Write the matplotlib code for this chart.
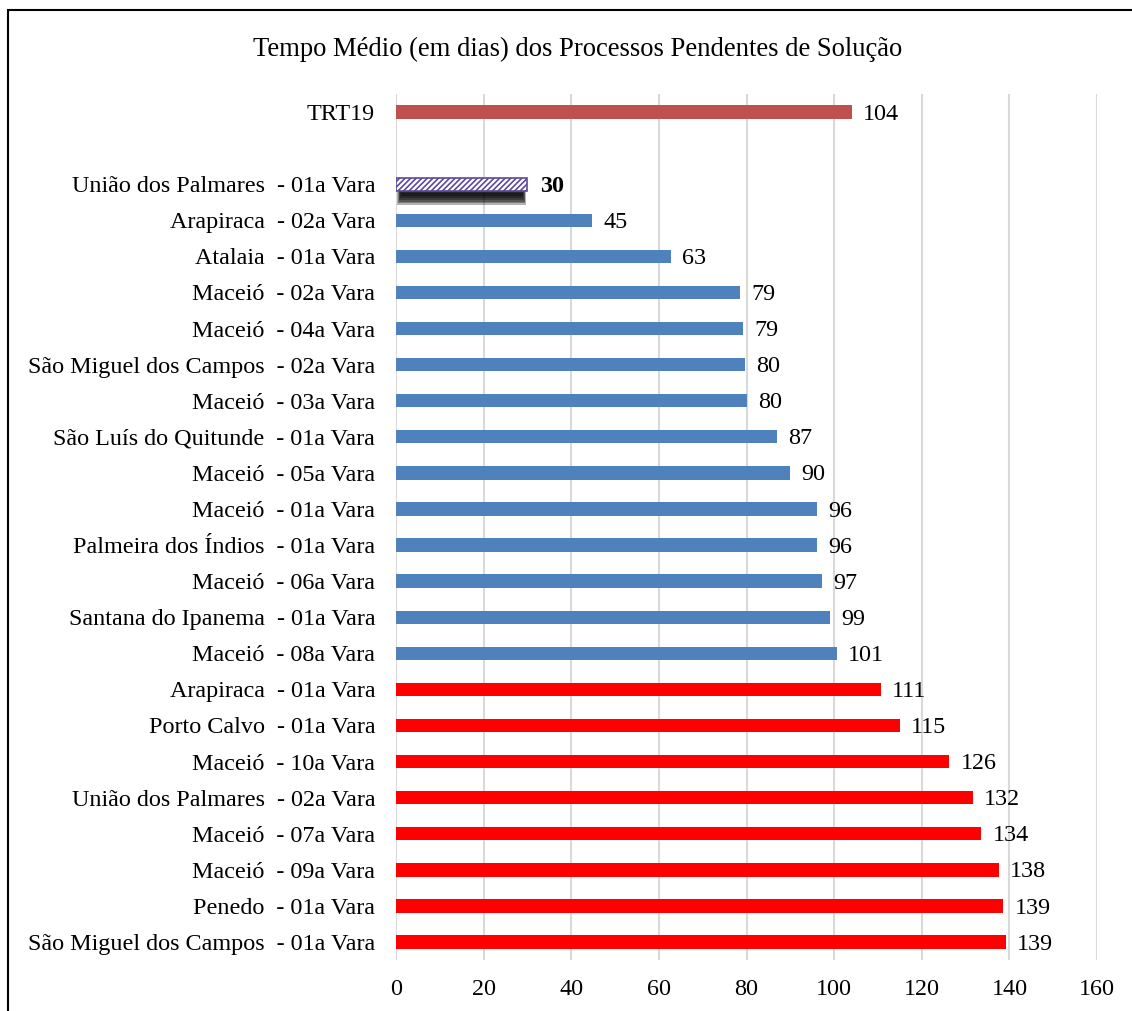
import matplotlib.pyplot as plt
from matplotlib.patches import Rectangle

plt.rcParams['font.family'] = ['Liberation Serif', 'DejaVu Serif']
plt.rcParams['hatch.color'] = '#5B4A9B'
plt.rcParams['hatch.linewidth'] = 1.2

TITLE = 'Tempo Médio (em dias) dos Processos Pendentes de Solução'

# top to bottom (below the TRT19 reference bar)
varas = [
    'União dos Palmares  - 01a Vara', 'Arapiraca  - 02a Vara', 'Atalaia  - 01a Vara',
    'Maceió  - 02a Vara', 'Maceió  - 04a Vara', 'São Miguel dos Campos  - 02a Vara',
    'Maceió  - 03a Vara', 'São Luís do Quitunde  - 01a Vara', 'Maceió  - 05a Vara',
    'Maceió  - 01a Vara', 'Palmeira dos Índios  - 01a Vara', 'Maceió  - 06a Vara',
    'Santana do Ipanema  - 01a Vara', 'Maceió  - 08a Vara', 'Arapiraca  - 01a Vara',
    'Porto Calvo  - 01a Vara', 'Maceió  - 10a Vara', 'União dos Palmares  - 02a Vara',
    'Maceió  - 07a Vara', 'Maceió  - 09a Vara', 'Penedo  - 01a Vara',
    'São Miguel dos Campos  - 01a Vara',
]
dias = [30, 44.8, 62.7, 78.6, 79.3, 79.6, 80.0, 87.0, 90.0, 96.1, 96.1, 97.3,
        99.1, 100.6, 110.6, 115.0, 126.3, 131.6, 133.6, 137.6, 138.6, 139.2]
grupo = ['destaque'] + ['abaixo'] * 13 + ['acima'] * 8

trt_label = 'TRT19'
trt_valor = 104

CORES = {'abaixo': '#4F81BD', 'acima': '#FF0000', 'trt': '#C0504D'}
FS = 17.4

fig = plt.figure(figsize=(11.32, 10.11), dpi=100)
ax = fig.add_axes([0.3498, 0.0504, 0.6194, 0.8566])

n = len(varas)
ys = [n - 1 - i for i in range(n)]
h = 0.37


def label(v, y, bold=False):
    ax.annotate(f'{v:.0f}', (v, y), xytext=(9 if bold else 8, -1.5),
                textcoords='offset points', va='center', ha='left', fontsize=FS,
                fontweight='bold' if bold else 'normal')


for y, v, g in zip(ys, dias, grupo):
    if g == 'destaque':
        # soft drop shadow under the highlighted bar
        for k in range(6):
            d = 0.05 * k
            ax.add_patch(Rectangle((0.3 + 3 * d, y - 0.58 + d), v - 0.6 - 6 * d,
                                   0.48 - 1.6 * d, facecolor='black', edgecolor='none',
                                   alpha=0.3, zorder=2))
        ax.barh(y, v, height=h, color='white', edgecolor='#5B4A9B',
                hatch='//////', linewidth=1.2, zorder=3)
        label(v, y, bold=True)
    else:
        ax.barh(y, v, height=h, color=CORES[g], zorder=3)
        label(v, y)

y_trt = n + 1
ax.barh(y_trt, trt_valor, height=h, color=CORES['trt'], zorder=3)
label(trt_valor, y_trt)

ax.set_yticks(ys + [y_trt])
ax.set_yticklabels(varas + [trt_label], fontsize=FS)
ax.set_ylim(-0.5, n + 1.5)
ax.set_xlim(0, 160)
ax.set_xticks(range(0, 161, 20))
ax.tick_params(axis='x', labelsize=FS, length=0, pad=14)
ax.tick_params(axis='y', length=0, pad=15)
ax.xaxis.grid(True, color='#D9D9D9', linewidth=1.5, zorder=0)
ax.set_axisbelow(True)
for s in ax.spines.values():
    s.set_visible(False)

fig.text(0.51, 0.951, TITLE, ha='center', va='center', fontsize=19.2)

# chart frame (cropped at the right and bottom edges)
fig.add_artist(Rectangle((8 / 1132, -0.05), 1.1, 1.05 - 10 / 1011, transform=fig.transFigure,
                         fill=False, edgecolor='black', linewidth=1.5))

fig.savefig('out.png', dpi=100, facecolor='white')
